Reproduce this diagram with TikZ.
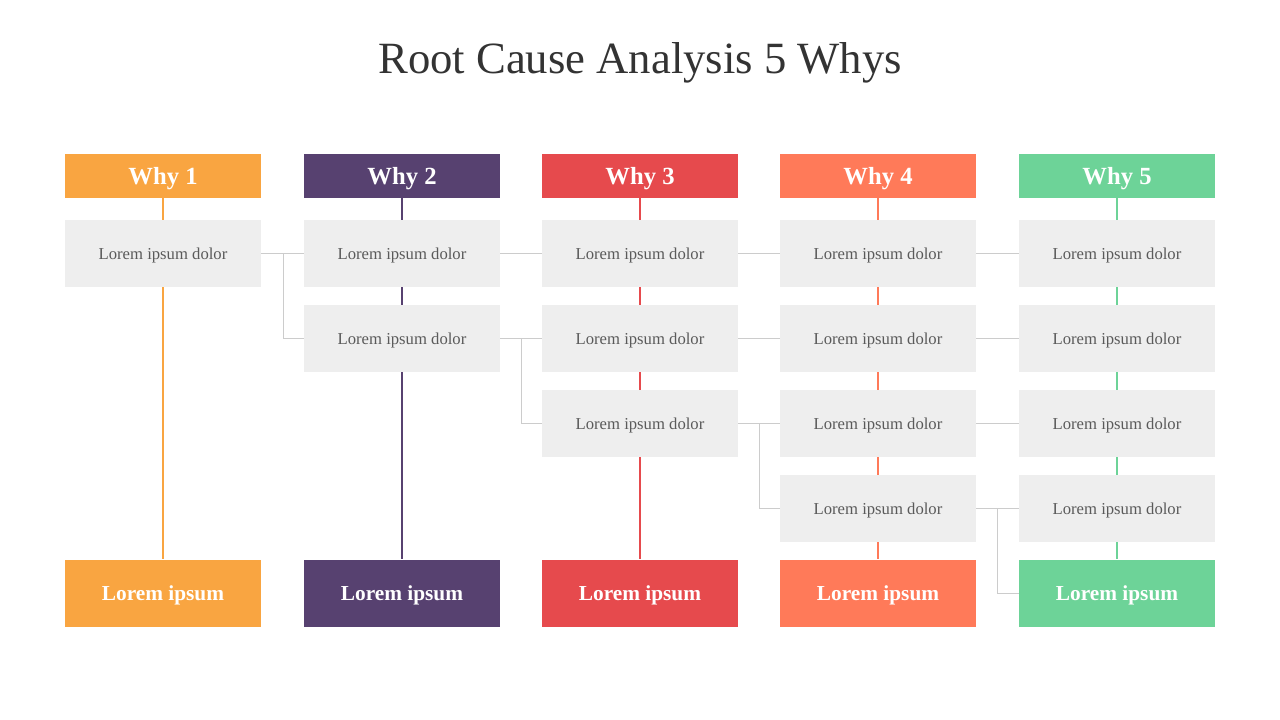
\documentclass[tikz,border=0pt]{standalone}
\usepackage{fontspec}
\setmainfont{Liberation Serif}
\definecolor{cOne}{HTML}{F9A541}
\definecolor{cTwo}{HTML}{574170}
\definecolor{cThree}{HTML}{E64A4D}
\definecolor{cFour}{HTML}{FF7A59}
\definecolor{cFive}{HTML}{6DD398}
\definecolor{boxgray}{HTML}{EEEEEE}
\definecolor{txtgray}{HTML}{5A5A5A}
\definecolor{linegray}{HTML}{CCCCCC}
\definecolor{titlegray}{HTML}{333333}
\tikzset{
  hdr/.style={minimum width=196*0.75pt, minimum height=44*0.75pt, inner sep=0pt, text depth=0pt, text=white, font=\fontsize{18.5}{22}\selectfont\bfseries},
  item/.style={fill=boxgray, minimum width=196*0.75pt, minimum height=67*0.75pt, inner sep=0pt, text depth=0pt, text=txtgray, font=\fontsize{12.5}{15}\selectfont},
  foot/.style={minimum width=196*0.75pt, minimum height=67*0.75pt, inner sep=0pt, text depth=0pt, text=white, font=\fontsize{16}{19}\selectfont\bfseries},
  spine/.style={line width=1.6pt},
  link/.style={draw=linegray, line width=0.75pt},
}
\begin{document}
\begin{tikzpicture}[x=0.75pt,y=-0.75pt]
\useasboundingbox (0,0) rectangle (1280,720);
\node[font=\fontsize{33.5}{40}\selectfont, text=titlegray, text depth=0pt] (title) at (640,58) {Root Cause Analysis 5 Whys};
% headers
\node[hdr, fill=cOne] (h1) at (163,176) {Why 1};
\node[hdr, fill=cTwo] (h2) at (402,176) {Why 2};
\node[hdr, fill=cThree] (h3) at (640,176) {Why 3};
\node[hdr, fill=cFour] (h4) at (878,176) {Why 4};
\node[hdr, fill=cFive] (h5) at (1117,176) {Why 5};
% footers
\node[foot, fill=cOne] (f1) at (163,593) {Lorem ipsum};
\node[foot, fill=cTwo] (f2) at (402,593) {Lorem ipsum};
\node[foot, fill=cThree] (f3) at (640,593) {Lorem ipsum};
\node[foot, fill=cFour] (f4) at (878,593) {Lorem ipsum};
\node[foot, fill=cFive] (f5) at (1117,593) {Lorem ipsum};
% spines (behind items)
\draw[spine, cOne] (h1.south) -- (f1.north);
\draw[spine, cTwo] (h2.south) -- (f2.north);
\draw[spine, cThree] (h3.south) -- (f3.north);
\draw[spine, cFour] (h4.south) -- (f4.north);
\draw[spine, cFive] (h5.south) -- (f5.north);
% items
\node[item] (a1) at (163,253.5) {Lorem ipsum dolor};
\node[item] (b1) at (402,253.5) {Lorem ipsum dolor};
\node[item] (b2) at (402,338.5) {Lorem ipsum dolor};
\node[item] (c1) at (640,253.5) {Lorem ipsum dolor};
\node[item] (c2) at (640,338.5) {Lorem ipsum dolor};
\node[item] (c3) at (640,423.5) {Lorem ipsum dolor};
\node[item] (d1) at (878,253.5) {Lorem ipsum dolor};
\node[item] (d2) at (878,338.5) {Lorem ipsum dolor};
\node[item] (d3) at (878,423.5) {Lorem ipsum dolor};
\node[item] (d4) at (878,508.5) {Lorem ipsum dolor};
\node[item] (e1) at (1117,253.5) {Lorem ipsum dolor};
\node[item] (e2) at (1117,338.5) {Lorem ipsum dolor};
\node[item] (e3) at (1117,423.5) {Lorem ipsum dolor};
\node[item] (e4) at (1117,508.5) {Lorem ipsum dolor};
% links
\draw[link] (a1.east) -- (b1.west);
\draw[link] (a1.east) -- ++(22,0) |- (b2.west);
\draw[link] (b1.east) -- (c1.west);
\draw[link] (c1.east) -- (d1.west);
\draw[link] (d1.east) -- (e1.west);
\draw[link] (b2.east) -- (c2.west);
\draw[link] (b2.east) -- ++(21,0) |- (c3.west);
\draw[link] (c2.east) -- (d2.west);
\draw[link] (d2.east) -- (e2.west);
\draw[link] (c3.east) -- (d3.west);
\draw[link] (c3.east) -- ++(21,0) |- (d4.west);
\draw[link] (d3.east) -- (e3.west);
\draw[link] (d4.east) -- (e4.west);
\draw[link] (d4.east) -- ++(21,0) |- (f5.west);
\end{tikzpicture}
\end{document}
